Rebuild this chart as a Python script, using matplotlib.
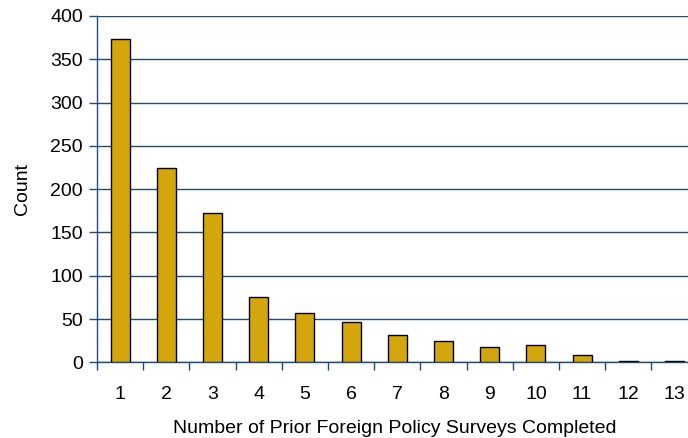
import matplotlib
matplotlib.use("Agg")
import matplotlib.pyplot as plt
import numpy as np

plt.rcParams['font.family'] = ['Liberation Sans', 'DejaVu Sans']

categories = ['1', '2', '3', '4', '5', '6', '7', '8', '9', '10', '11', '12', '13']
counts = [374, 225, 173, 75, 57, 46, 31, 25, 18, 20, 9, 1, 1]
yticks = [0, 50, 100, 150, 200, 250, 300, 350, 400]

FS = 14
fig = plt.figure(figsize=(6.88, 4.38), dpi=100)
L, B, T = 97/688, (438-362.3)/438, (438-16)/438
W = 13*46.2/688
ax = fig.add_axes([L, B, W, T-B])

x = np.arange(len(categories))
ax.bar(x, counts, width=0.41, color='#D4A60E', edgecolor='black', linewidth=1.0, zorder=3)

line_col = '#1F4A7A'
ax.set_xlim(-0.5, len(categories)-0.5)
ax.set_ylim(0, 400)
ax.set_yticks(yticks)
ax.yaxis.grid(True, color=line_col, linewidth=1.0)
ax.set_axisbelow(True)
for s in ['top', 'right']:
    ax.spines[s].set_visible(False)
for s in ['left', 'bottom']:
    ax.spines[s].set_color(line_col)
    ax.spines[s].set_linewidth(1.0)

ax.set_xticks(np.arange(-0.5, len(categories), 1.0))
ax.set_xticklabels([])
ax.set_xticks(x, minor=True)
ax.set_xticklabels(categories, minor=True, fontsize=FS)
ax.tick_params(axis='x', which='major', length=6, color=line_col, width=1)
ax.tick_params(axis='x', which='minor', length=0, pad=17)
ax.tick_params(axis='y', length=6, color=line_col, width=1, labelsize=FS, pad=4)

ax.set_ylabel('Count', fontsize=FS)
ax.yaxis.set_label_coords(-(97-31)/(W*688), 0.5)
ax.set_xlabel('Number of Prior Foreign Policy Surveys Completed', fontsize=FS)
ax.xaxis.set_label_coords((395-97)/(W*688), -(420-362.3)/(362.3-16))

fig.savefig('out.png', dpi=100)
